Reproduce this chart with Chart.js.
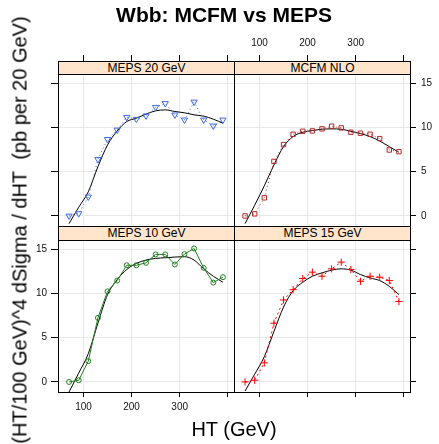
<!DOCTYPE html>
<html><head><meta charset="utf-8">
<script src="https://cdn.jsdelivr.net/npm/chart.js@4"></script>
<style>
html,body{margin:0;padding:0;background:#fff;width:439px;height:444px;overflow:hidden;font-family:"Liberation Sans",Arial,sans-serif;}
canvas{position:absolute;left:0;top:0;}
.box{position:absolute;border:1px solid #000;box-sizing:border-box;}
.strip{position:absolute;background:#ffe5cc;border:1px solid #000;box-sizing:border-box;font-size:12px;text-align:center;line-height:12px;color:#000;}
.txt{position:absolute;white-space:nowrap;color:#000;}
</style></head><body>
<canvas id="c0" width="439" height="444"></canvas>
<canvas id="c1" width="439" height="444"></canvas>
<canvas id="c2" width="439" height="444"></canvas>
<canvas id="c3" width="439" height="444"></canvas>

<div class="box" style="left:58px;top:61px;width:177px;height:166px"></div>
<div class="box" style="left:234px;top:61px;width:177px;height:166px"></div>
<div class="box" style="left:58px;top:226px;width:177px;height:167px"></div>
<div class="box" style="left:234px;top:226px;width:177px;height:167px"></div>
<div class="strip" id="s0" style="left:58px;top:61px;width:177px;height:14px"></div>
<div class="strip" id="s1" style="left:234px;top:61px;width:177px;height:14px"></div>
<div class="strip" id="s2" style="left:58px;top:226px;width:177px;height:15px"></div>
<div class="strip" id="s3" style="left:234px;top:226px;width:177px;height:15px"></div>

<div class="txt" style="left:0;width:448px;top:3px;text-align:center;font-weight:bold;font-size:21px;">Wbb: MCFM vs MEPS</div>
<div class="txt" style="left:134px;width:200px;top:418px;text-align:center;font-size:20px;">HT (GeV)</div>
<div class="txt" style="left:20px;top:230px;width:0;height:0;"><div style="position:absolute;left:0;top:0;transform:translate(-50%,-50%) rotate(-90deg);font-size:20px;white-space:nowrap;">(HT/100 GeV)^4 dSigma / dHT&nbsp; (pb per 20 GeV)</div></div>

<script>
const FONT = '"Liberation Sans", Arial, sans-serif';
const panelNames = ['MEPS 20 GeV', 'MCFM NLO', 'MEPS 10 GeV', 'MEPS 15 GeV'];
const ht = [70, 90, 110, 130, 150, 170, 190, 210, 230, 250, 270, 290, 310, 330, 350, 370, 390];
const meps20 = [0.0, 0.27, 2.16, 6.4, 8.67, 9.73, 11.17, 10.95, 11.33, 12.3, 12.73, 11.44, 10.87, 12.9, 10.87, 10.19, 10.87];
const mcfm   = [0.0, 0.23, 2.05, 6.17, 8.07, 9.24, 9.58, 9.62, 9.85, 10.15, 9.96, 9.47, 9.36, 9.24, 8.75, 7.46, 7.27];
const meps10 = [0.0, 0.19, 2.35, 7.25, 10.25, 11.47, 13.2, 13.2, 13.48, 14.43, 14.43, 13.29, 14.47, 15.1, 12.9, 11.24, 11.85];
const meps15 = [0.0, 0.19, 2.16, 6.65, 9.27, 10.44, 11.7, 12.42, 11.96, 12.8, 13.56, 12.72, 11.39, 11.96, 11.85, 11.47, 9.1];
const smooth20   = [-0.87, 0.98, 2.73, 5.57, 8.03, 9.62, 10.68, 11.06, 11.52, 11.89, 12.0, 11.82, 11.67, 11.44, 11.29, 10.95, 10.49];
const smoothMcfm = [-0.87, 1.21, 3.4, 5.76, 7.84, 8.98, 9.47, 9.66, 9.81, 9.85, 9.81, 9.58, 9.32, 8.98, 8.48, 7.84, 7.2];
const smooth10   = [-1.14, 1.0, 3.2, 6.65, 9.87, 11.58, 12.72, 13.41, 13.79, 13.98, 14.05, 14.13, 14.17, 13.79, 12.8, 11.96, 11.28];
const smooth15   = [-1.03, 0.87, 2.85, 5.7, 8.47, 10.33, 11.28, 11.96, 12.34, 12.65, 12.8, 12.65, 12.15, 11.77, 11.47, 10.82, 9.87];
const xTicks = [100, 200, 300, 400];
const xTickLabels = ['100', '200', '300', ''];
const yTicks = [0, 5, 10, 15];
const xMin = 47, xMax = 413, yMin = -1.14, yMax = 16.06;

const panels = [
  {vals: meps20, sm: smooth20, color: '#3d68e6', style: 'triangle', rot: 180, r: 3.6, dash: [1, 3],
   xPos: 'top', yPos: 'left', showX: false, showY: false, pad: {left: 18, top: 34, right: 205, bottom: 218}},
  {vals: mcfm, sm: smoothMcfm, color: '#b22a2a', style: 'rect', rot: 0, r: 3.1, dash: [1, 3],
   xPos: 'top', yPos: 'right', showX: true, showY: true, pad: {left: 234, top: 34, right: 4, bottom: 218}},
  {vals: meps10, sm: smooth10, color: '#1f7f1f', style: 'circle', rot: 0, r: 2.5, dash: [],
   xPos: 'bottom', yPos: 'left', showX: true, showY: true, pad: {left: 18, top: 240, right: 205, bottom: 22}},
  {vals: meps15, sm: smooth15, color: '#ff0000', style: 'cross', rot: 0, r: 3.6, dash: [2, 3],
   xPos: 'bottom', yPos: 'right', showX: false, showY: false, pad: {left: 234, top: 240, right: 4, bottom: 22}}
];

function xScale(p) {
  const top = p.xPos === 'top';
  return {
    type: 'linear', min: xMin, max: xMax, position: p.xPos,
    afterBuildTicks: s => { s.ticks = xTicks.map(v => ({value: v})); },
    afterFit: s => { s.height = top ? 40 : 30; },
    grid: {color: '#e8e8e8', lineWidth: 1, tickColor: '#000', tickWidth: 1, tickLength: top ? 19 : 5, drawTicks: true},
    border: {display: false},
    ticks: {color: p.showX ? '#111' : 'rgba(0,0,0,0)', font: {family: FONT, size: 10}, padding: top ? 6 : 4,
            maxRotation: 0, autoSkip: false, callback: (v, i) => xTickLabels[i]}
  };
}
function yScale(p) {
  const left = p.yPos === 'left';
  return {
    type: 'linear', min: yMin, max: yMax, position: p.yPos,
    afterBuildTicks: s => { s.ticks = yTicks.map(v => ({value: v})); },
    afterFit: s => { s.width = left ? 40 : 25; },
    grid: {color: '#e8e8e8', lineWidth: 1, tickColor: '#000', tickWidth: 1, tickLength: left ? 7 : 6, drawTicks: true},
    border: {display: false},
    ticks: {color: p.showY ? '#111' : 'rgba(0,0,0,0)', font: {family: FONT, size: 10}, padding: left ? 4 : 5, autoSkip: false}
  };
}

panels.forEach((p, i) => {
  document.getElementById('s' + i).textContent = panelNames[i];
  new Chart(document.getElementById('c' + i), {
    type: 'scatter',
    data: {
      datasets: [
        {data: ht.map((x, k) => ({x: x, y: p.vals[k]})), showLine: true, borderColor: p.color, borderWidth: 1,
         borderDash: p.dash, pointStyle: p.style, rotation: p.rot, pointRadius: p.r, pointBorderColor: p.color,
         pointBackgroundColor: 'rgba(0,0,0,0)', pointBorderWidth: 1, tension: 0},
        {data: ht.map((x, k) => ({x: x, y: p.sm[k]})), showLine: true, borderColor: '#000', borderWidth: 1,
         pointRadius: 0, cubicInterpolationMode: 'monotone', clip: 0}
      ]
    },
    options: {
      responsive: false, animation: false, events: [],
      layout: {padding: p.pad},
      plugins: {legend: {display: false}, tooltip: {enabled: false}},
      scales: {x: xScale(p), y: yScale(p)}
    }
  });
});
</script>
</body></html>
